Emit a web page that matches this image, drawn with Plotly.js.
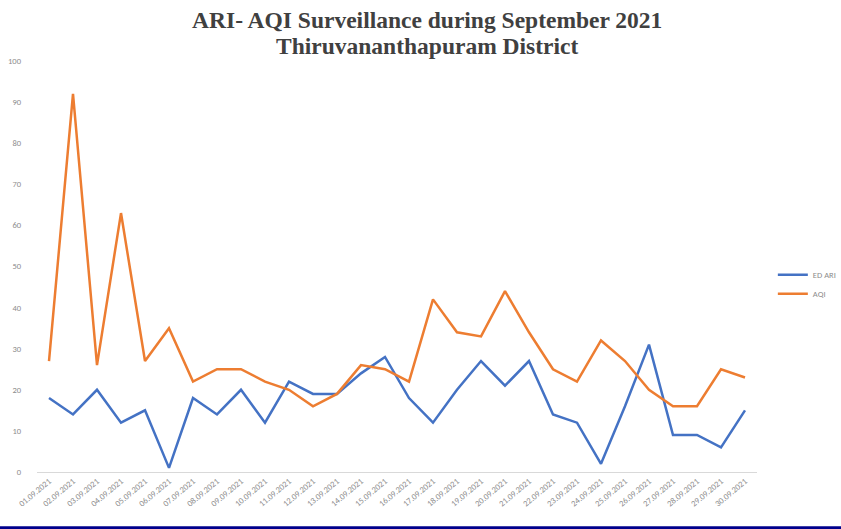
<!DOCTYPE html>
<html>
<head>
<meta charset="utf-8">
<script src="https://cdn.plot.ly/plotly-3.0.1.min.js"></script>
<style>html,body{margin:0;padding:0;background:#fff;}#chart{width:841px;height:529px;}</style>
</head>
<body>
<div id="chart"></div>
<script>
const dates = ["01.09.2021","02.09.2021","03.09.2021","04.09.2021","05.09.2021","06.09.2021","07.09.2021","08.09.2021","09.09.2021","10.09.2021","11.09.2021","12.09.2021","13.09.2021","14.09.2021","15.09.2021","16.09.2021","17.09.2021","18.09.2021","19.09.2021","20.09.2021","21.09.2021","22.09.2021","23.09.2021","24.09.2021","25.09.2021","26.09.2021","27.09.2021","28.09.2021","29.09.2021","30.09.2021"];
const edAri = [18,14,20,12,15,1,18,14,20,12,22,19,19,24,28,18,12,20,27,21,27,14,12,2,16,31,9,9,6,15];
const aqi = [27,92,26,63,27,35,22,25,25,22,20,16,19,26,25,22,42,34,33,44,34,25,22,32,27,20,16,16,25,23];
const yTicks = [0,10,20,30,40,50,60,70,80,90,100];
const titleLine1 = "ARI- AQI Surveillance during September 2021";
const titleLine2 = "Thiruvananthapuram District";

const titleFont = {family: "Liberation Serif, Times New Roman, serif", size: 23.5, color: "#404040"};
const smallFont = {family: "Carlito, Calibri, Liberation Sans, sans-serif", size: 8.5, color: "#8c8c8c"};

const traces = [
  {x: dates, y: edAri, name: "ED ARI", type: "scatter", mode: "lines",
   line: {color: "#4472C4", width: 2.5}},
  {x: dates, y: aqi, name: "AQI", type: "scatter", mode: "lines",
   line: {color: "#ED7D31", width: 2.5}}
];

const layout = {
  width: 841, height: 529,
  margin: {l: 37, r: 84, t: 61, b: 57, autoexpand: false},
  paper_bgcolor: "#ffffff", plot_bgcolor: "#ffffff",
  title: {
    text: "<b>" + titleLine1 + "</b>",
    font: titleFont,
    x: 0.542, xanchor: "center", xref: "paper", y: 1 - 20/529, yanchor: "middle", yref: "container"
  },
  annotations: [
    {text: "<b>" + titleLine2 + "</b>", font: titleFont, showarrow: false,
     xref: "paper", yref: "paper", x: 0.542, xanchor: "center", y: (472-46)/411, yanchor: "middle"}
  ],
  xaxis: {
    type: "category", range: [-0.5, 29.5],
    tickangle: -40, showgrid: false, zeroline: false,
    showline: true, linecolor: "#d9d9d9", linewidth: 1,
    ticks: "", tickfont: smallFont
  },
  yaxis: {
    range: [0, 100], tickvals: yTicks, ticktext: yTicks.map(String),
    showgrid: false, zeroline: false, showline: false, ticks: "",
    ticklabelstandoff: 15,
    tickfont: smallFont
  },
  legend: {
    x: 1.022, xanchor: "left", y: 0.457, yanchor: "middle",
    font: smallFont,
    itemwidth: 30, tracegroupgap: 4, bgcolor: "rgba(0,0,0,0)"
  },
  shapes: [
    {type: "rect", xref: "paper", yref: "paper", x0: -0.06, x1: 1.13,
     y0: -0.132, y1: -0.14, fillcolor: "#00008B", line: {width: 0}}
  ],
  showlegend: true
};

Plotly.newPlot("chart", traces, layout, {displayModeBar: false, staticPlot: true});
</script>
</body>
</html>
